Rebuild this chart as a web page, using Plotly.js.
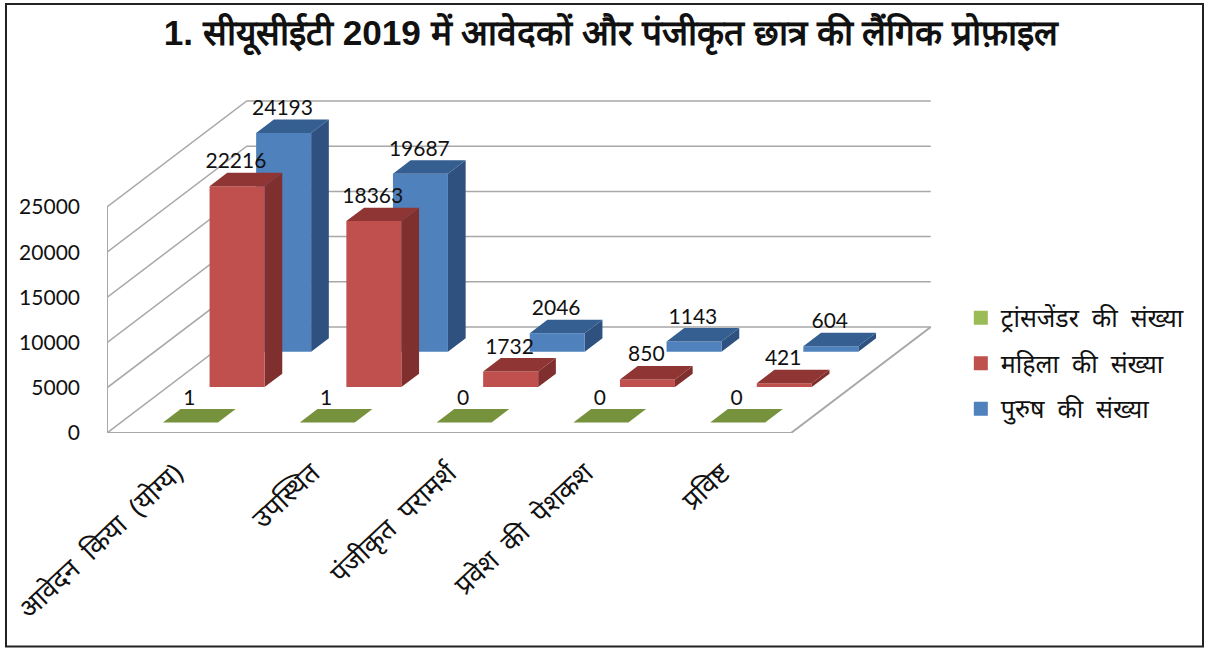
<!DOCTYPE html>
<html><head><meta charset="utf-8">
<script src="https://cdn.plot.ly/plotly-3.0.1.min.js"></script>
<style>html,body{margin:0;padding:0;background:#fff}</style></head>
<body><div id="chart" style="width:1206px;height:648px"></div>
<script>
const categories = ["आवेदन\u00A0\u00A0किया\u00A0\u00A0(योग्य)", "उपस्थित", "पंजीकृत\u00A0\u00A0परामर्श", "प्रवेश\u00A0\u00A0की\u00A0\u00A0पेशकश", "प्रविष्ट"];
const seriesNames = ["ट्रांसजेंडर\u00A0\u00A0की\u00A0\u00A0संख्या", "महिला\u00A0\u00A0की\u00A0\u00A0संख्या", "पुरुष\u00A0\u00A0की\u00A0\u00A0संख्या"];
const transgender = [1, 1, 0, 0, 0];
const female = [22216, 18363, 1732, 850, 421];
const male = [24193, 19687, 2046, 1143, 604];
const yTicks = [0, 5000, 10000, 15000, 20000, 25000];
const frontColors = ["#9BBB59", "#C0504D", "#4F81BD"];
const sideColors = ["#6f8a3a", "#7f2f2d", "#2f5180"];
const topColors = ["#76923c", "#8f3533", "#365f91"];

// oblique projection: category x, value y, depth in series slots
const slotX = 0.3405, slotY = 3909;
const xR = 6.089, yR = 37721;
const px = (x, d) => x + d * slotX;
const py = (v, d) => v + d * slotY;
const grid = {color: "#a8a8a8", width: 1.5};
const traces = [];
function line(xs, ys, w) {
  traces.push({type: "scatter", mode: "lines", x: xs, y: ys, hoverinfo: "skip", showlegend: false,
    line: {color: grid.color, width: w || grid.width}, cliponaxis: false});
}
yTicks.forEach(v => line([px(0, 0), px(0, 3), px(5, 3)], [py(v, 0), py(v, 3), py(v, 3)]));
line([0, 0], [0, yTicks[5]], 2);
line([0, 5, px(5, 3)], [0, 0, py(0, 3)], 2);

const barL = 0.307, barR = 0.709, d0 = 0.3, d1 = 0.68;
function poly(arrX, arrY, pts) {
  pts.concat([pts[0]]).forEach(p => { arrX.push(p[0]); arrY.push(p[1]); });
  arrX.push(null); arrY.push(null);
}
function addSeries(vals, slot, si) {
  const f = {x: [], y: []}, s = {x: [], y: []}, t = {x: [], y: []};
  vals.forEach((v, i) => {
    const a = i + barL, b = i + barR, n = slot + d0, m = slot + d1;
    poly(s.x, s.y, [[px(b, n), py(0, n)], [px(b, m), py(0, m)], [px(b, m), py(v, m)], [px(b, n), py(v, n)]]);
    poly(f.x, f.y, [[px(a, n), py(0, n)], [px(b, n), py(0, n)], [px(b, n), py(v, n)], [px(a, n), py(v, n)]]);
    poly(t.x, t.y, [[px(a, n), py(v, n)], [px(b, n), py(v, n)], [px(b, m), py(v, m)], [px(a, m), py(v, m)]]);
  });
  [[s, sideColors[si]], [f, frontColors[si]], [t, topColors[si]]].forEach(e => traces.push({
    type: "scatter", mode: "lines", x: e[0].x, y: e[0].y, fill: "toself", fillcolor: e[1],
    line: {width: 0, color: e[1]}, hoverinfo: "skip", showlegend: false
  }));
}
addSeries(male, 2, 2);
addSeries(female, 1, 1);
addSeries(transgender, 0, 0);

const labelLift = 2560;
[[transgender, 0], [female, 1], [male, 2]].forEach(e => traces.push({
  type: "scatter", mode: "text", showlegend: false, hoverinfo: "skip", cliponaxis: false,
  x: e[0].map((v, i) => px(i + 0.5, e[1] + d0)),
  y: e[0].map((v) => py(v, e[1] + d0) + labelLift),
  text: e[0].map(String), textposition: "middle center",
  textfont: {family: "Lato, 'Noto Sans', sans-serif", size: 21, color: "#111"}
}));
seriesNames.forEach((n, i) => traces.push({
  type: "scatter", mode: "markers", name: n, x: [null], y: [null], legendgroup: "g" + i,
  marker: {symbol: "square", size: 14, color: frontColors[i]}, hoverinfo: "skip"
}));

const layout = {
  width: 1206, height: 648, autosize: false, paper_bgcolor: "#fff", plot_bgcolor: "rgba(0,0,0,0)",
  margin: {l: 107, r: 266, t: 92, b: 215},
  title: {text: "1. सीयूसीईटी 2019 में आवेदकों और पंजीकृत छात्र की लैंगिक प्रोफ़ाइल",
    x: 0.605, xanchor: "center", xref: "paper", y: 0.949, yanchor: "middle", yref: "container",
    font: {family: "'Liberation Sans', Arial, sans-serif", size: 35.2, color: "#111", weight: 700}},
  xaxis: {range: [0, xR], showgrid: false, zeroline: false, showline: false, ticks: "",
    tickmode: "array", tickvals: categories.map((c, i) => i + 0.5), ticktext: categories, tickangle: -43,
    ticklabelstandoff: 18,
    tickfont: {family: "'Noto Sans', sans-serif", size: 27, color: "#111"}, automargin: false},
  yaxis: {range: [0, yR], showgrid: false, zeroline: false, showline: false, ticks: "",
    tickmode: "array", tickvals: yTicks, ticktext: yTicks.map(String), ticklabelstandoff: 26,
    tickfont: {family: "Lato, 'Noto Sans', sans-serif", size: 21, color: "#111"}, automargin: false},
  showlegend: true,
  legend: {x: 1.025, xanchor: "left", y: 0.405, yanchor: "top", traceorder: "grouped", tracegroupgap: 10,
    font: {family: "'Noto Sans', sans-serif", size: 25, color: "#111"}, bgcolor: "rgba(0,0,0,0)", itemclick: false},
  shapes: [{type: "rect", xref: "paper", yref: "paper", layer: "above",
    x0: (6 - 107) / 833, x1: (1203 - 107) / 833, y0: (433 - 646.5) / 341, y1: (433 - 4) / 341,
    line: {color: "#222", width: 2}, fillcolor: "rgba(0,0,0,0)"}]
};
Plotly.newPlot("chart", traces, layout, {displayModeBar: false, responsive: false});
</script></body></html>
